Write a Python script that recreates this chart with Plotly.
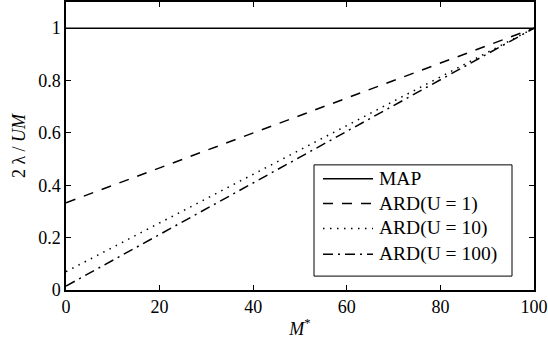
import plotly.graph_objects as go

m_star = [0, 100]
map_vals = [1.0, 1.0]
ard_u1 = [0.333, 1.0]
ard_u10 = [0.07, 1.0]
ard_u100 = [0.015, 1.0]

series = [
    ("MAP", map_vals, "solid"),
    ("ARD(U = 1)", ard_u1, "10px,9px"),
    ("ARD(U = 10)", ard_u10, "1.5px,5.5px"),
    ("ARD(U = 100)", ard_u100, "10px,5px,2px,5px"),
]

W, H = 548, 347
ML, MR, MT, MB = 66, 14, 0, 57
PW, PH = W - ML - MR, H - MT - MB


def px_x(px):
    return (px - ML) / PW


def px_y(py):
    return (H - MB - py) / PH


fig = go.Figure()
for name, vals, dash in series:
    fig.add_trace(go.Scatter(x=m_star, y=vals, mode="lines", name=name,
                             showlegend=False,
                             line=dict(color="black", width=1.5, dash=dash)))

font = dict(family="Liberation Serif", size=18, color="black")
legfont = dict(family="Liberation Serif", size=19.5, color="black")

# legend box drawn manually (paper coordinates)
shapes = [dict(type="rect", xref="paper", yref="paper",
               x0=px_x(314), x1=px_x(512), y0=px_y(276), y1=px_y(164),
               line=dict(color="black", width=1), fillcolor="white", layer="above")]
annotations = []
row_y = [178, 203, 228, 254]
for (name, vals, dash), ry in zip(series, row_y):
    shapes.append(dict(type="line", xref="paper", yref="paper",
                       x0=px_x(323), x1=px_x(373), y0=px_y(ry), y1=px_y(ry),
                       line=dict(color="black", width=1.5, dash=dash), layer="above"))
    annotations.append(dict(text=name, xref="paper", yref="paper",
                            x=px_x(377), y=px_y(ry), xanchor="left", yanchor="middle",
                            showarrow=False, font=legfont))

axis_common = dict(showline=True, linecolor="black", linewidth=1.5, mirror="ticks",
                   ticks="inside", ticklen=5, tickcolor="black", tickwidth=1,
                   showgrid=False, zeroline=False, tickfont=font,
                   ticklabeloverflow="allow")

fig.update_layout(
    width=W, height=H,
    margin=dict(l=ML, r=MR, t=MT, b=MB),
    paper_bgcolor="white", plot_bgcolor="white",
    font=font,
    showlegend=False,
    shapes=shapes,
    annotations=annotations,
    xaxis=dict(range=[0, 100], tickvals=[0, 20, 40, 60, 80, 100],
               title=dict(text="<i>M</i><sup>*</sup>", font=font, standoff=6),
               **axis_common),
    yaxis=dict(range=[0, 1.1], tickvals=[0, 0.2, 0.4, 0.6, 0.8, 1],
               ticktext=["0", "0.2", "0.4", "0.6", "0.8", "1"],
               title=dict(text="2 λ / <i>UM</i>", font=font, standoff=8),
               **axis_common),
)

fig.write_html("out.html")
